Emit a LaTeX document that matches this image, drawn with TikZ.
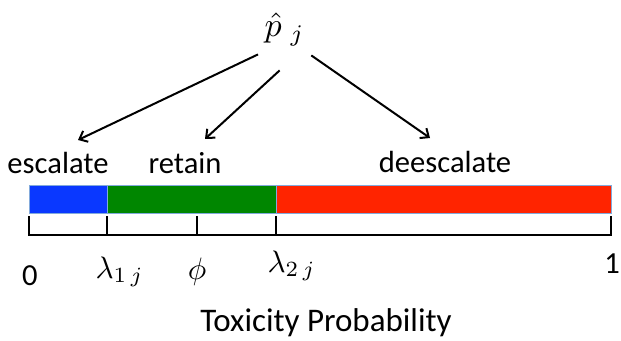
\documentclass[tikz,border=0pt]{standalone}
\usepackage{fontspec}
\setmainfont{Carlito}
\usepackage{tikz}
\usetikzlibrary{arrows.meta,positioning,calc}
\definecolor{escblue}{RGB}{10,56,255}
\definecolor{retgreen}{RGB}{0,134,0}
\definecolor{deered}{RGB}{255,36,0}
\definecolor{barline}{RGB}{130,170,220}

\begin{document}
\begin{tikzpicture}[x=1pt,y=-1pt,>={Straight Barb[length=7pt,width=12pt]},
  lab/.style={inner sep=0pt,font=\fontsize{30.6}{36}\selectfont},
  mth/.style={inner sep=0pt,scale=3.1},
  arr/.style={->,line width=2pt},
  seg/.style={draw=barline,line width=0.8pt},
  ax/.style={line width=1.8pt,line cap=rect}]
\useasboundingbox (0,0) rectangle (621,340);
% estimate node and its three outcomes
\node[inner sep=0pt,scale=3.4,anchor=base west] (phat) at (264,36) {$\hat{p}_{\hspace{2.5pt}j}$};
\coordinate (t1) at (78,140);
\coordinate (t2) at (205,139);
\coordinate (t3) at (430,138);
\draw[arr] ([xshift=-6pt,yshift=-8pt]phat.south west) -- (t1);
\draw[arr] ([xshift=-5pt,yshift=-24pt]phat.south) -- (t2);
\draw[arr] ([xshift=6pt,yshift=-9pt]phat.south east) -- (t3);
\node[lab,anchor=base] (esc) at (58,173) {escalate};
\node[lab,anchor=base] (ret) at (185,173) {retain};
\node[lab,anchor=base] (dee) at (445,172) {deescalate};
% coloured bar
\fill[escblue,seg] (29,185) rectangle (107,213);
\fill[retgreen,seg] (107,185) rectangle (276,213);
\fill[deered,seg] (276,185) rectangle (611,213);
% axis
\draw[ax] (29,235) -- (611,235);
\foreach \t in {29,107,197,276,611} \draw[ax] (\t,217) -- (\t,235);
\node[lab,anchor=base] (zero) at (30,285) {0};
\node[mth,anchor=base west] (lamlo) at (95,278) {$\lambda_{1\hspace{1.5pt}j}$};
\node[mth,anchor=base] (phi) at (197,279) {$\phi$};
\node[mth,anchor=base west] (lamhi) at (267,272) {$\lambda_{2\hspace{1.5pt}j}$};
\node[lab,anchor=base] (one) at (612,273) {1};
\node[lab,font=\fontsize{33}{40}\selectfont,anchor=base] (tox) at (326,331) {Toxicity Probability};
\end{tikzpicture}
\end{document}
